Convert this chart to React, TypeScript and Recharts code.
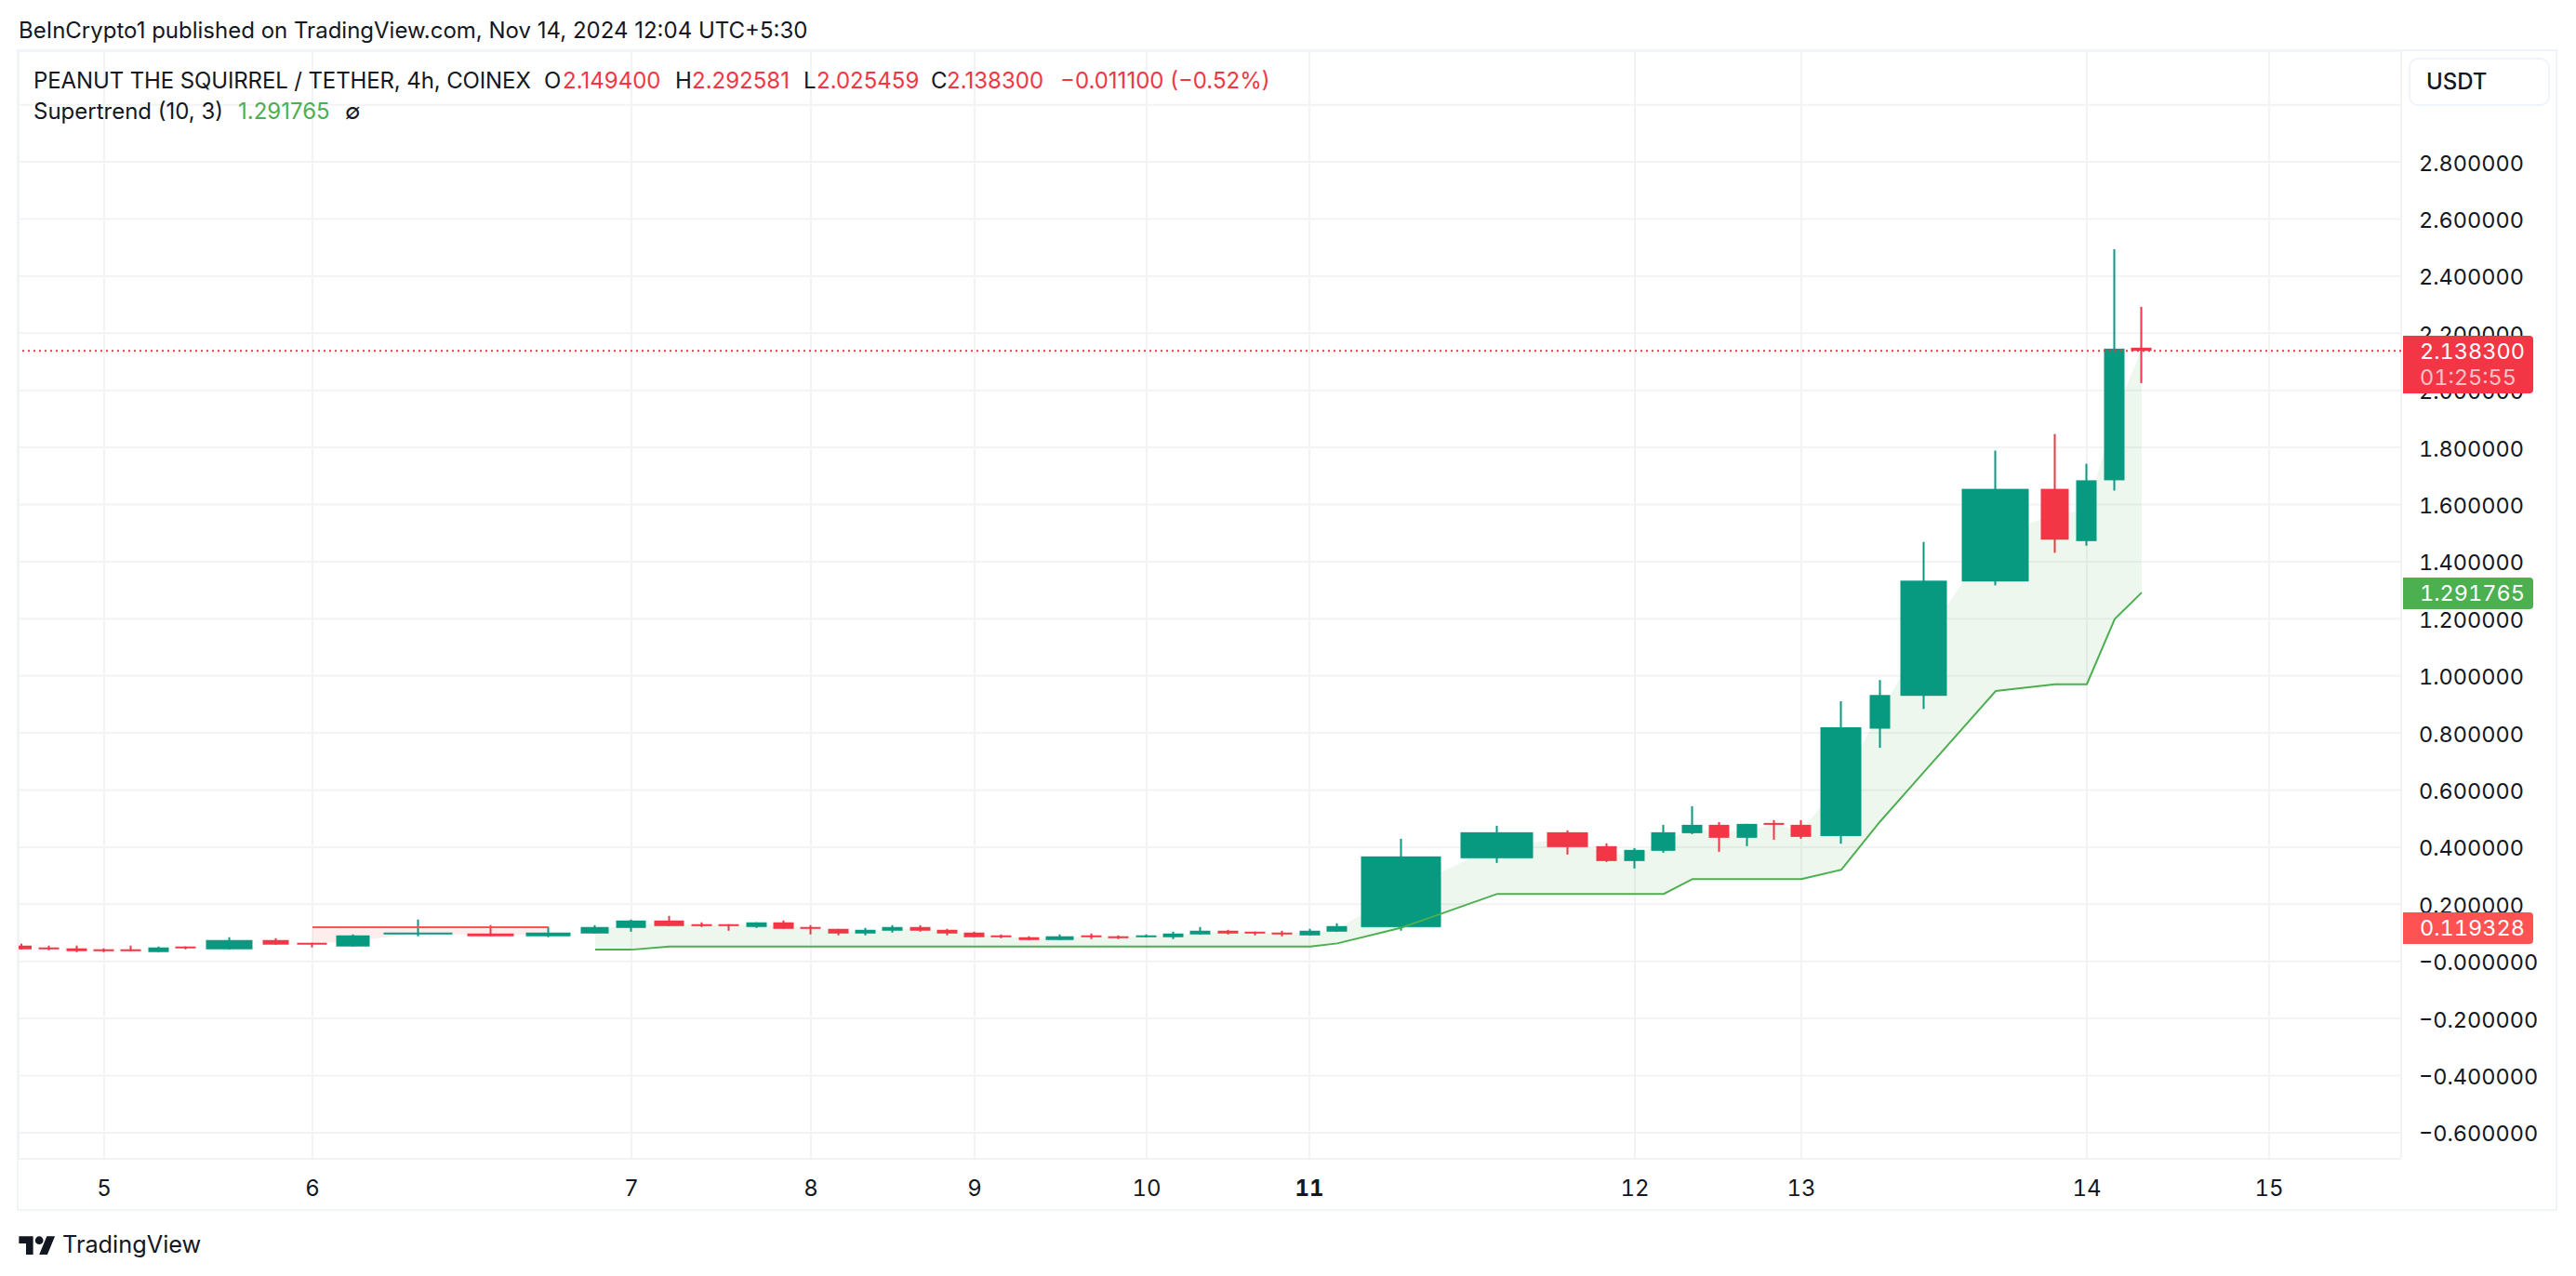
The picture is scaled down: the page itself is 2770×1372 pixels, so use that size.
import React from 'react';
import { ComposedChart, Bar, Line, Area, XAxis, YAxis, CartesianGrid, ReferenceLine } from 'recharts';

const timelinePos = [23.5,53,83,112,141,171,200,247,297,336,380,450,528,590,640,679,720,755,784,814,843,872,902,931,960,990,1019,1048,1077,1107,1140,1174,1203,1233,1262,1291,1321,1350,1379,1409,1438,1507,1610,1686,1728,1758,1789,1820,1849,1879,1908,1937,1980,2022,2069,2146,2210,2244,2274,2303];
const timelineSpan = [22,22,22,22,22,22,22,50,28,32,36,74,50,48,30,32,32,22,22,22,22,22,22,22,22,22,22,22,22,22,30,22,22,22,22,22,22,22,22,22,22,86,78,44,22,22,26,22,22,22,22,22,44,22,50,72,30,22,22,22];
const opens = [.0553,.0488,.0456,.0423,.0423,.0325,.0521,.0423,.0748,.0651,.0521,.0944,.0976,.0879,.0976,.1171,.1432,.1302,.1302,.1204,.1367,.1204,.1139,.0976,.1074,.1204,.1106,.1009,.0911,.0846,.0748,.0911,.0879,.0846,.0846,.0944,.1074,.1041,.1009,.0911,.1041,.12,.3612,.4523,.4035,.3514,.3872,.449,.4783,.4328,.4848,.4783,.439,.815,.93,1.3306,1.655,1.472,1.685,2.1494];
const highs = [.0618,.0553,.0553,.0456,.0553,.0521,.0521,.0846,.0813,.0651,.0944,.1464,.1269,.1204,.1269,.1464,.1594,.1367,.1302,.1367,.1432,.1269,.1139,.1171,.1269,.1269,.1139,.1041,.0944,.0879,.0944,.0976,.0911,.0944,.1041,.1204,.1106,.1041,.1074,.1139,.1334,.4295,.4751,.4588,.4132,.397,.4783,.5434,.4881,.4816,.4946,.4946,.911,.9855,1.469,1.789,1.847,1.743,2.494,2.292581];
const lows = [.0423,.039,.0325,.0325,.0358,.0325,.0423,.0423,.0586,.0488,.0521,.0879,.0879,.0846,.0976,.1041,.1236,.1204,.1074,.1171,.1139,.0944,.0911,.0911,.1009,.1041,.0911,.0846,.0813,.0748,.0748,.0781,.0781,.0846,.0781,.0944,.0944,.0911,.0879,.0911,.1041,.1074,.3449,.3742,.3482,.3254,.3807,.4458,.3839,.4035,.4262,.4295,.412,.748,.884,1.317,1.431,1.456,1.649,2.025459];
const closes = [.0423,.0423,.0358,.0358,.0358,.0488,.0456,.0748,.0586,.0586,.0911,.1009,.0879,.1009,.1204,.1432,.1236,.1236,.1236,.1367,.1139,.1139,.0976,.1106,.1204,.1074,.0976,.0846,.0846,.0748,.0879,.0846,.0813,.0911,.0976,.1074,.0976,.0976,.0944,.1074,.1236,.3677,.4523,.4002,.3514,.3905,.4523,.4783,.4328,.4816,.4783,.436,.82,.933,1.3335,1.655,1.477,1.685,2.146,2.1383];
const supertrendDown = [null,null,null,null,null,null,null,null,null,.119328,.119328,.119328,.119328,.119328,null,null,null,null,null,null,null,null,null,null,null,null,null,null,null,null,null,null,null,null,null,null,null,null,null,null,null,null,null,null,null,null,null,null,null,null,null,null,null,null,null,null,null,null,null,null];
const supertrendUp = [null,null,null,null,null,null,null,null,null,null,null,null,null,null,.041,.041,.052,.052,.052,.052,.052,.052,.052,.052,.052,.052,.052,.052,.052,.052,.052,.052,.052,.052,.052,.052,.052,.052,.052,.052,.063,.118,.2364,.2364,.2364,.2364,.2364,.2885,.2885,.2885,.2885,.2885,.321,.491,.664,.947,.9706,.9706,1.199,1.291765];

const dayTicks = [112,336,679,872,1048,1233,1408,1758,1937,2244,2440];
const dayLabels = ['5','6','7','8','9','10','11','12','13','14','15'];
const priceTicks = [3,2.8,2.6,2.4,2.2,2,1.8,1.6,1.4,1.2,1,.8,.6,.4,.2,0,-.2,-.4,-.6];
const priceLabels = ['','2.800000','2.600000','2.400000','2.200000','2.000000','1.800000','1.600000','1.400000','1.200000','1.000000','0.800000','0.600000','0.400000','0.200000','\u22120.000000','\u22120.200000','\u22120.400000','\u22120.600000'];

const rows = timelinePos.map((pos, i) => {
  const mid = (opens[i] + closes[i]) / 2;
  return {
    pos,
    span: timelineSpan[i],
    open: opens[i], high: highs[i], low: lows[i], close: closes[i],
    range: [lows[i], highs[i]],
    up: supertrendUp[i],
    down: supertrendDown[i],
    upFill: supertrendUp[i] == null ? null : [supertrendUp[i], mid],
    downFill: supertrendDown[i] == null ? null : [mid, supertrendDown[i]],
  };
});

const GREEN = '#089981';
const RED = '#F23645';
const INK = '#131722';
const FRAME = '#f0f3fa';
const GRID = '#f2f3f5';
const ST_UP = '#4caf50';
const ST_DOWN = '#ff5252';
const FONT = 'Inter, "Liberation Sans", sans-serif';

const LEFT = 20, PLOT_RIGHT = 2582, RIGHT = 2750, TOP = 55, PLOT_BOTTOM = 1246, BOTTOM = 1302;
const domainY: [number, number] = [-0.6915, 3.188];
const priceY = (v: number) => TOP + ((domainY[1] - v) / (domainY[1] - domainY[0])) * (PLOT_BOTTOM - TOP);

const Candle = (props: any) => {
  const { x, y, width, height, payload } = props;
  const { open, high, low, close, span } = payload;
  const cx = x + width / 2;
  const h = Math.abs(height);
  const topY = height < 0 ? y + height : y;
  const perUnit = h / (high - low);
  const bodyTop = topY + (high - Math.max(open, close)) * perUnit;
  const bodyH = Math.max(Math.abs(open - close) * perUnit, 2);
  const color = close >= open ? GREEN : RED;
  return (
    <g>
      <rect x={cx - 1} y={topY} width={2} height={h} fill={color} />
      <rect x={cx - span / 2} y={bodyTop} width={span} height={bodyH} fill={color} />
    </g>
  );
};

const DayTick = (props: any) => {
  const { x, y, payload } = props;
  const label = dayLabels[dayTicks.indexOf(payload.value)];
  return (
    <text x={x} y={y + 1} textAnchor="middle" dominantBaseline="central" fontFamily={FONT} fontSize={24} fontWeight={label === '11' ? 700 : 400} fill={INK} style={{ fontVariantNumeric: 'tabular-nums' }}>
      {label}
    </text>
  );
};

const PriceTick = (props: any) => {
  const { x, y, payload } = props;
  const label = priceLabels[priceTicks.indexOf(payload.value)];
  return (
    <text x={x} y={y + 1} textAnchor="start" dominantBaseline="central" fontFamily={FONT} fontSize={23.5} fill={INK} style={{ fontVariantNumeric: 'tabular-nums' }}>
      {label}
    </text>
  );
};

const T = ({ x, y, color = INK, size = 24, weight = 400, spacing = 0, tab = false, children }: any) => (
  <div style={{ position: 'absolute', left: x, top: y, transform: 'translateY(-50%)', color, fontSize: size, fontWeight: weight, fontFamily: FONT, whiteSpace: 'nowrap', lineHeight: 1, letterSpacing: spacing, fontVariantNumeric: tab ? 'tabular-nums' : 'normal' }}>{children}</div>
);

const Tag = ({ top, height, bg }: any) => (
  <div style={{ position: 'absolute', left: 2584, top, width: 140, height, background: bg, borderRadius: '0 4px 4px 0' }} />
);

export default function App() {
  return (
    <div style={{ position: 'absolute', left: 0, top: 0, width: 2770, height: 1372, background: '#fff', overflow: 'hidden' }}>
      <div style={{ position: 'absolute', left: LEFT - 2, top: TOP - 2, width: RIGHT - LEFT + 2, height: BOTTOM - TOP + 2, border: `2px solid ${FRAME}`, boxSizing: 'border-box' }} />
      <div style={{ position: 'absolute', left: 0, top: 0 }}>
        <ComposedChart width={2770} height={1372} data={rows} margin={{ top: TOP, left: LEFT, right: 2770 - RIGHT, bottom: 1372 - BOTTOM }}>
          <CartesianGrid stroke={GRID} strokeWidth={2} />
          <XAxis dataKey="pos" type="number" domain={[LEFT, PLOT_RIGHT]} allowDataOverflow ticks={dayTicks} interval={0} height={BOTTOM - PLOT_BOTTOM} axisLine={false} tickLine={false} tick={<DayTick />} tickSize={0} tickMargin={30} />
          <YAxis orientation="right" type="number" domain={domainY} allowDataOverflow ticks={priceTicks} interval={0} width={RIGHT - PLOT_RIGHT} axisLine={false} tickLine={false} tick={<PriceTick />} tickSize={0} tickMargin={19} />
          <Area dataKey="upFill" stroke="none" fill={ST_UP} fillOpacity={0.1} isAnimationActive={false} dot={false} activeDot={false} />
          <Area dataKey="downFill" stroke="none" fill={ST_DOWN} fillOpacity={0.1} isAnimationActive={false} dot={false} activeDot={false} />
          <Line dataKey="up" stroke={ST_UP} strokeWidth={2} dot={false} activeDot={false} isAnimationActive={false} />
          <Line dataKey="down" stroke={ST_DOWN} strokeWidth={2} dot={false} activeDot={false} isAnimationActive={false} />
          <Bar dataKey="range" barSize={2} shape={<Candle />} isAnimationActive={false} />
          <ReferenceLine y={closes[closes.length - 1]} stroke={RED} strokeWidth={2} strokeDasharray="2 4" />
        </ComposedChart>
      </div>

      <T x={20} y={33}>BeInCrypto1 published on TradingView.com, Nov 14, 2024 12:04 UTC+5:30</T>
      <T x={36} y={87} spacing={-0.12}>PEANUT THE SQUIRREL / TETHER, 4h, COINEX</T>
      <T x={585} y={87}>O</T><T x={605} y={87} color={RED}>2.149400</T>
      <T x={726} y={87}>H</T><T x={744} y={87} color={RED}>2.292581</T>
      <T x={864} y={87}>L</T><T x={878} y={87} color={RED}>2.025459</T>
      <T x={1001} y={87}>C</T><T x={1018} y={87} color={RED}>2.138300</T>
      <T x={1140} y={87} color={RED}>−0.011100 (−0.52%)</T>
      <T x={36} y={120}>Supertrend (10, 3)</T>
      <T x={256} y={120} color={ST_UP}>1.291765</T>
      <T x={371} y={120}>∅</T>

      <div style={{ position: 'absolute', left: 2590, top: 62, width: 152, height: 52, border: `2px solid ${FRAME}`, borderRadius: 10, boxSizing: 'border-box', background: '#fff' }} />
      <T x={2609} y={88} weight={500}>USDT</T>

      <Tag top={361} height={62} bg={RED} />
      <T x={2602} y={priceY(closes[59]) + 1} color="#fff" size={23.5} tab>2.138300</T>
      <T x={2602} y={405.5} color="rgba(255,255,255,0.7)" size={23.5} tab>01:25:55</T>
      <Tag top={621} height={34} bg={ST_UP} />
      <T x={2602} y={priceY(supertrendUp[59] as number) + 1} color="#fff" size={23.5} tab>1.291765</T>
      <Tag top={981} height={34} bg={ST_DOWN} />
      <T x={2602} y={priceY(.119328) + 1} color="#fff" size={23.5} tab>0.119328</T>

      <svg style={{ position: 'absolute', left: 20, top: 1325 }} width={40} height={24} viewBox="0 0 36 22">
        <path d="M14 22H7V11H0V4h14v18zM28 22h-8l7.5-18h8L28 22z" fill={INK} />
        <circle cx={20} cy={8} r={4} fill={INK} />
      </svg>
      <T x={67} y={1338} size={25.3}>TradingView</T>
    </div>
  );
}
